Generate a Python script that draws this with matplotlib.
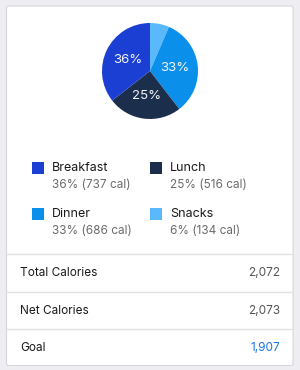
import matplotlib.pyplot as plt
from matplotlib.patches import FancyBboxPatch, Rectangle

plt.rcParams['font.family'] = ['Inter', 'DejaVu Sans']

meals = ['Breakfast', 'Lunch', 'Dinner', 'Snacks']
calories = [737, 516, 686, 134]
colors = ['#1c3fd3', '#1b2f4d', '#0a8fea', '#5ab9fa']

summary_labels = ['Total Calories', 'Net Calories', 'Goal']
summary_values = ['2,072', '2,073', '1,907']
summary_colors = ['#555555', '#555555', '#1a73e8']

W, H = 300, 370
fig = plt.figure(figsize=(W / 100, H / 100), dpi=100)
fig.patch.set_facecolor('#eeeef2')

# pixel coords helper (y from top)
def px(x, y):
    return x / W, 1 - y / H

# card
card = FancyBboxPatch(px(6.5, 365.5), 286.5 / W, 359.5 / H,
                      boxstyle='round,pad=0,rounding_size=0.006',
                      transform=fig.transFigure, facecolor='white',
                      edgecolor='#d6d6dc', linewidth=0.8, zorder=0)
fig.patches.append(card)

# pie, clockwise from top: snacks, dinner, lunch, breakfast
order = [3, 2, 1, 0]
vals = [calories[i] for i in order]
cols = [colors[i] for i in order]
total = sum(calories)

ax = fig.add_axes([102 / W, 1 - 119 / H, 96 / W, 96 / H], zorder=3)
ax.pie(vals, colors=cols, startangle=90, counterclock=False,
       autopct=lambda p: f'{p:.0f}%' if p > 10 else '',
       pctdistance=0.52, textprops=dict(color='#f2f4f8', fontsize=9.5),
       wedgeprops=dict(linewidth=0))
ax.set_xlim(-1, 1)
ax.set_ylim(-1, 1)
ax.set_aspect('equal')

# legend
legend_pos = [(32, 168), (150, 168), (32, 214), (150, 214)]
for i, (x, y) in enumerate(legend_pos):
    sx, sy = px(x, y + 6)
    fig.patches.append(Rectangle((sx, sy), 12 / W, 12 / H,
                                 transform=fig.transFigure,
                                 facecolor=colors[i], edgecolor='none'))
    fig.text(*px(x + 20, y), meals[i], fontsize=9, color='#1a1a1a',
             va='center', ha='left')
    pct = round(calories[i] / total * 100)
    fig.text(*px(x + 20, y + 17), f'{pct}% ({calories[i]} cal)',
             fontsize=8.5, color='#6b6b6b', va='center', ha='left')

# summary rows
for y in [254, 291.5, 329]:
    fig.add_artist(plt.Line2D([7 / W, 292.5 / W], [1 - y / H, 1 - y / H],
                              transform=fig.transFigure, color='#e2e2e6',
                              linewidth=1))
for k, y in enumerate([273, 311, 348]):
    fig.text(*px(20, y), summary_labels[k], fontsize=8.5, color='#1a1a1a',
             va='center', ha='left')
    fig.text(*px(280, y), summary_values[k], fontsize=8.5,
             color=summary_colors[k], va='center', ha='right')

fig.savefig('out.png', dpi=100, facecolor=fig.get_facecolor())
